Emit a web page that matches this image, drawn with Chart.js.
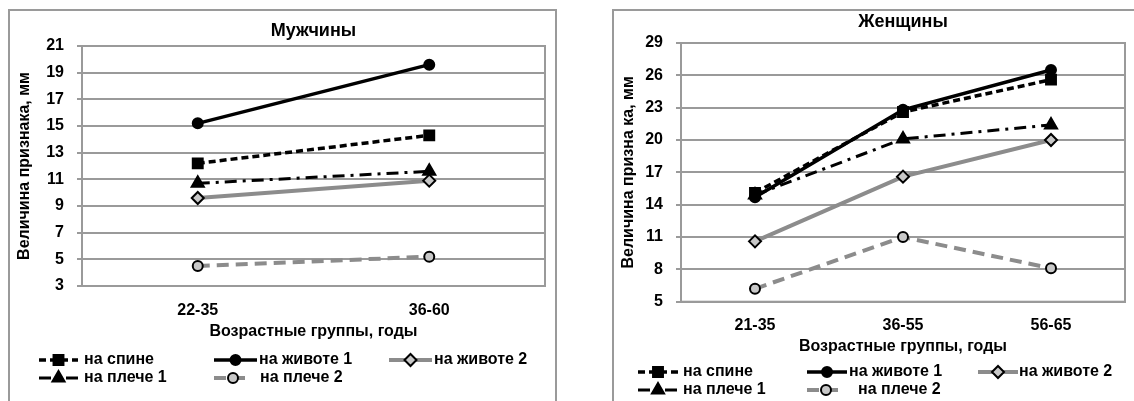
<!DOCTYPE html>
<html>
<head>
<meta charset="utf-8">
<script src="https://cdn.jsdelivr.net/npm/chart.js@4.4.1/dist/chart.umd.min.js"></script>
<style>
    body { margin: 0; background: #fff; width: 1134px; height: 401px; overflow: hidden; position: relative; }
    .frame { position: absolute; border: 2px solid #9a9a9a; box-sizing: border-box; }
    canvas { position: absolute; top: 0; }
</style>
</head>
<body>
<div class="frame" style="left:8px; top:9px; width:549px; height:420px"></div>
<div class="frame" style="left:612px; top:9px; width:600px; height:420px"></div>
<canvas id="menChart" width="560" height="401" style="left:0"></canvas>
<canvas id="womenChart" width="534" height="401" style="left:600px"></canvas>
<script>
// ===== данные =====
const seriesNames = ["на спине", "на животе 1", "на животе 2", "на плече 1", "на плече 2"];

// Мужчины
const menAges = ["22-35", "36-60"];
const menBack = [12.2, 14.3];
const menBelly1 = [15.2, 19.6];
const menBelly2 = [9.6, 10.9];
const menShoulder1 = [10.7, 11.6];
const menShoulder2 = [4.5, 5.2];

// Женщины
const womenAges = ["21-35", "36-55", "56-65"];
const womenBack = [15.1, 22.6, 25.6];
const womenBelly1 = [14.7, 22.8, 26.5];
const womenBelly2 = [10.6, 16.6, 20.0];
const womenShoulder1 = [14.9, 20.1, 21.4];
const womenShoulder2 = [6.2, 11.0, 8.1];

const GRID = "#9a9a9a";
const GRAY = "#8c8c8c";
const FONT = { family: '"Liberation Sans", Arial, sans-serif', size: 16, weight: "bold" };

Chart.defaults.font.family = FONT.family;
Chart.defaults.color = "#000";

// стиль линий (как в Excel)
const seriesStyles = [
    { color: "#000", width: 3.5, dash: [7, 4], point: "rect", r: 7, fill: "#000", border: "#000" },
    { color: "#000", width: 3.5, dash: [], point: "circle", r: 5, fill: "#000", border: "#000" },
    { color: GRAY, width: 4, dash: [], point: "rectRot", r: 6, fill: "#c8c8c8", border: "#000" },
    { color: "#000", width: 3, dash: [12, 6, 3, 6], point: "triangle", r: 7, fill: "#000", border: "#000" },
    { color: GRAY, width: 4, dash: [12, 7], point: "circle", r: 5, fill: "#c8c8c8", border: "#000" }
];

// рамка области построения
const plotBorder = {
    id: "plotBorder",
    beforeDatasetsDraw(chart) {
        const a = chart.chartArea;
        const ctx = chart.ctx;
        ctx.save();
        ctx.strokeStyle = GRID;
        ctx.lineWidth = 2;
        ctx.setLineDash([]);
        ctx.strokeRect(a.left, a.top, a.right - a.left, a.bottom - a.top);
        ctx.restore();
    }
};

// легенда: линия + маркер + подпись
const lineLegend = {
    id: "lineLegend",
    afterDraw(chart, args, opts) {
        const ctx = chart.ctx;
        chart.data.datasets.forEach((ds, i) => {
            const it = opts.items[i];
            ctx.save();
            ctx.strokeStyle = ds.borderColor;
            ctx.lineWidth = ds.borderWidth;
            ctx.setLineDash(ds.borderDash || []);
            ctx.beginPath();
            ctx.moveTo(it.x0, it.y);
            ctx.lineTo(it.x1, it.y);
            ctx.stroke();
            ctx.setLineDash([]);
            ctx.fillStyle = ds.pointBackgroundColor;
            ctx.strokeStyle = ds.pointBorderColor;
            ctx.lineWidth = ds.pointBorderWidth;
            Chart.helpers.drawPoint(ctx, {
                pointStyle: ds.pointStyle,
                radius: ds.pointRadius,
                borderWidth: ds.pointBorderWidth,
                rotation: 0
            }, (it.x0 + it.x1) / 2, it.y);
            ctx.fillStyle = "#000";
            ctx.font = "bold 16px " + FONT.family;
            ctx.textBaseline = "middle";
            ctx.textAlign = "left";
            ctx.fillText(ds.label, it.tx, it.y);
            ctx.restore();
        });
    }
};

function buildDatasets(values) {
    return values.map((v, i) => {
        const s = seriesStyles[i];
        return {
            label: seriesNames[i],
            data: v,
            borderColor: s.color,
            borderWidth: s.width,
            borderDash: s.dash,
            pointStyle: s.point,
            pointRadius: s.r,
            pointBackgroundColor: s.fill,
            pointBorderColor: s.border,
            pointBorderWidth: 2,
            tension: 0
        };
    });
}

function makeChart(id, title, labels, values, yMin, yMax, step, geo) {
    return new Chart(document.getElementById(id), {
        type: "line",
        data: { labels: labels, datasets: buildDatasets(values) },
        plugins: [plotBorder, lineLegend],
        options: {
            responsive: false,
            animation: false,
            layout: { padding: { top: 0, left: 0, right: geo.padRight, bottom: geo.padBottom } },
            plugins: {
                legend: { display: false },
                tooltip: { enabled: false },
                title: {
                    display: true,
                    text: title,
                    fullSize: false,
                    color: "#000",
                    font: { size: 18, weight: "bold" },
                    padding: { top: geo.titleTop, bottom: geo.titleBottom }
                },
                lineLegend: { items: geo.legend }
            },
            scales: {
                x: {
                    offset: true,
                    grid: { display: false },
                    border: { display: true, color: GRID, width: 2 },
                    ticks: { padding: geo.xTickPad, font: FONT, color: "#000" },
                    title: {
                        display: true,
                        text: "Возрастные группы, годы",
                        color: "#000",
                        font: FONT,
                        padding: { top: 0, bottom: 0 }
                    },
                    afterFit: s => { s.height = geo.xHeight; }
                },
                y: {
                    min: yMin,
                    max: yMax,
                    ticks: { stepSize: step, padding: geo.yTickPad, font: FONT, color: "#000" },
                    grid: { color: GRID, lineWidth: 2, drawTicks: true, tickLength: 5, tickColor: GRID },
                    border: { display: true, color: GRID, width: 2 },
                    title: {
                        display: true,
                        text: geo.yTitle,
                        color: "#000",
                        font: FONT,
                        padding: { top: geo.yTitleX - 9.6, bottom: 0 }
                    },
                    afterFit: s => { s.width = geo.plotLeft; }
                }
            }
        }
    });
}

makeChart("menChart", "Мужчины", menAges,
    [menBack, menBelly1, menBelly2, menShoulder1, menShoulder2], 3, 21, 2, {
        padRight: 15, padBottom: 59.4,
        titleTop: 20.2, titleBottom: 4.2,
        xTickPad: 7.4, xHeight: 55.6,
        yTickPad: 13, yTitleX: 25, plotLeft: 82,
        yTitle: "Величина признака, мм",
        legend: [
            { x0: 39, x1: 78, tx: 84, y: 360 },
            { x0: 214, x1: 257, tx: 259, y: 360 },
            { x0: 389, x1: 432, tx: 434, y: 360 },
            { x0: 39, x1: 78, tx: 84, y: 378 },
            { x0: 214, x1: 252, tx: 260, y: 378 }
        ]
    });

makeChart("womenChart", "Женщины", womenAges,
    [womenBack, womenBelly1, womenBelly2, womenShoulder1, womenShoulder2], 5, 29, 3, {
        padRight: 7, padBottom: 44.7,
        titleTop: 10.9, titleBottom: 10.5,
        xTickPad: 6, xHeight: 54.6,
        yTickPad: 13, yTitleX: 28.3, plotLeft: 81,
        yTitle: "Величина призна ка, мм",
        legend: [
            { x0: 38, x1: 78, tx: 83, y: 372 },
            { x0: 207, x1: 247, tx: 249, y: 372 },
            { x0: 378, x1: 418, tx: 419, y: 372 },
            { x0: 38, x1: 78, tx: 83, y: 390 },
            { x0: 207, x1: 245, tx: 258, y: 390 }
        ]
    });
</script>
</body>
</html>
